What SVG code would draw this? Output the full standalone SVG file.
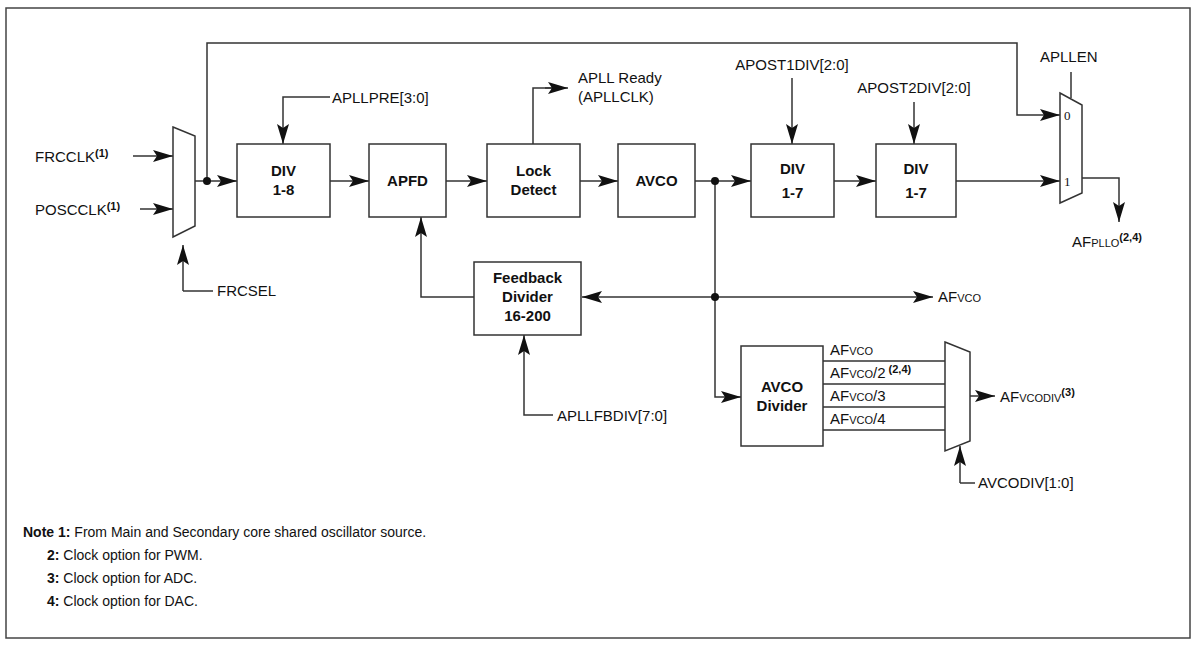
<svg xmlns="http://www.w3.org/2000/svg" width="1196" height="645" viewBox="0 0 1196 645">
<defs>
<marker id="ah" markerWidth="20" markerHeight="12" refX="20" refY="6" orient="auto" markerUnits="userSpaceOnUse"><path d="M0,0 L20,6 L0,12 L4,6 Z" fill="#111"/></marker>
</defs>
<style>
text{font-family:"Liberation Sans",Arial,sans-serif;font-size:15px;fill:#111}
.b{font-weight:bold}
.s{font-size:11px}
.sup{font-size:11px;font-weight:bold}
.box{fill:#fff;stroke:#333;stroke-width:1.5}
.w{fill:none;stroke:#333;stroke-width:1.5}
.a{marker-end:url(#ah)}
</style>
<rect width="1196" height="645" fill="#fff"/>
<rect x="6" y="8" width="1184" height="630" fill="none" stroke="#444" stroke-width="1.5"/>
<g id="connectors">
<path class="w a" d="M133,156 H173"/>
<path class="w a" d="M140,209 H173"/>
<path class="w a" d="M183,291 V245"/>
<path class="w" d="M183,291 H213"/>
<path class="w a" d="M195,181 H237"/>
<path class="w a" d="M207,181 V43 H1017 V115 H1060"/>
<path class="w a" d="M330,97 H283 V144"/>
<path class="w a" d="M330,181 H369"/>
<path class="w a" d="M446,181 H487"/>
<path class="w" d="M533,144 V88 H552"/>
<path class="w a" d="M545,88 H568"/>
<path class="w a" d="M580,181 H618"/>
<path class="w a" d="M695,181 H751"/>
<path class="w a" d="M792,78 V144"/>
<path class="w a" d="M914,102 V144"/>
<path class="w a" d="M834,181 H876"/>
<path class="w a" d="M956,181 H1060"/>
<path class="w" d="M1071,72 V98"/>
<path class="w a" d="M1082,178 H1119 V222"/>
<path class="w a" d="M715,181 V397 H741"/>
<path class="w a" d="M715,297 H582"/>
<path class="w a" d="M715,297 H933"/>
<path class="w a" d="M474,297 H421 V217"/>
<path class="w a" d="M553,415 H524 V335"/>
<path class="w" d="M823,361 H945 M823,384 H945 M823,407 H945 M823,430 H945"/>
<path class="w a" d="M970,396 H995"/>
<path class="w a" d="M960,483 V446"/>
<path class="w" d="M960,483 H975"/>
<circle cx="207" cy="181" r="4" fill="#111"/>
<circle cx="715" cy="181" r="4" fill="#111"/>
<circle cx="715" cy="297" r="4" fill="#111"/>
</g>
<g id="mux1"><path class="box" d="M173,127 L195,136 L195,226 L173,237 Z"/></g>
<g id="frcclk"><text x="35" y="162">FRCCLK<tspan class="sup" dy="-5">(1)</tspan></text></g>
<g id="poscclk"><text x="35" y="215">POSCCLK<tspan class="sup" dy="-5">(1)</tspan></text></g>
<g id="frcsel"><text x="217" y="296">FRCSEL</text></g>
<g id="div18"><rect class="box" x="237" y="144" width="93" height="73"/><text class="b" x="283.500" y="176" text-anchor="middle">DIV</text><text class="b" x="283.500" y="195" text-anchor="middle">1-8</text></g>
<g id="apllpre"><text x="332" y="103">APLLPRE[3:0]</text></g>
<g id="apfd"><rect class="box" x="369" y="144" width="77" height="73"/><text class="b" x="407.500" y="186" text-anchor="middle">APFD</text></g>
<g id="lock"><rect class="box" x="487" y="144" width="93" height="73"/><text class="b" x="533.500" y="176" text-anchor="middle">Lock</text><text class="b" x="533.500" y="195" text-anchor="middle">Detect</text></g>
<g id="ready"><text x="578" y="83">APLL Ready</text><text x="578" y="102">(APLLCLK)</text></g>
<g id="avco"><rect class="box" x="618" y="144" width="77" height="73"/><text class="b" x="656.500" y="186" text-anchor="middle">AVCO</text></g>
<g id="div17a"><rect class="box" x="751" y="144" width="83" height="73"/><text class="b" x="792.500" y="174" text-anchor="middle">DIV</text><text class="b" x="792.500" y="198" text-anchor="middle">1-7</text></g>
<g id="apost1"><text x="792" y="70" text-anchor="middle">APOST1DIV[2:0]</text></g>
<g id="div17b"><rect class="box" x="876" y="144" width="80" height="73"/><text class="b" x="916" y="174" text-anchor="middle">DIV</text><text class="b" x="916" y="198" text-anchor="middle">1-7</text></g>
<g id="apost2"><text x="914" y="93" text-anchor="middle">APOST2DIV[2:0]</text></g>
<g id="mux2"><path class="box" d="M1060,93 L1082,105 L1082,193 L1060,203 Z"/><text x="1064" y="120" style="font-family:'Liberation Serif',serif;font-size:13px">0</text><text x="1064" y="186" style="font-family:'Liberation Serif',serif;font-size:13px">1</text></g>
<g id="apllen"><text x="1040" y="62">APLLEN</text></g>
<g id="afpllo"><text x="1072" y="247">AF<tspan class="s">PLLO</tspan><tspan class="sup" dy="-6">(2,4)</tspan></text></g>
<g id="afvco"><text x="938" y="302">AF<tspan class="s">VCO</tspan></text></g>
<g id="fb"><rect class="box" x="474" y="262" width="107" height="73"/><text class="b" x="527.500" y="283" text-anchor="middle">Feedback</text><text class="b" x="527.500" y="302" text-anchor="middle">Divider</text><text class="b" x="527.500" y="321" text-anchor="middle">16-200</text></g>
<g id="fbdiv"><text x="557" y="421">APLLFBDIV[7:0]</text></g>
<g id="avcodiv"><rect class="box" x="741" y="346" width="82" height="100"/><text class="b" x="782" y="392" text-anchor="middle">AVCO</text><text class="b" x="782" y="411" text-anchor="middle">Divider</text></g>
<g id="divlabels"><text x="830" y="355">AF<tspan class="s">VCO</tspan></text><text x="830" y="378">AF<tspan class="s">VCO</tspan>/2<tspan class="sup" dy="-5"> (2,4)</tspan></text><text x="830" y="401">AF<tspan class="s">VCO</tspan>/3</text><text x="830" y="424">AF<tspan class="s">VCO</tspan>/4</text></g>
<g id="mux3"><path class="box" d="M945,342 L970,352 L970,441 L945,451 Z"/></g>
<g id="afvcodiv"><text x="1000" y="402">AF<tspan class="s">VCODIV</tspan><tspan class="sup" dy="-6">(3)</tspan></text></g>
<g id="avcodivsel"><text x="978" y="488">AVCODIV[1:0]</text></g>
<g id="notes" style="font-size:14px">
<text x="23" y="537" style="font-size:14px"><tspan class="b">Note 1:</tspan> From Main and Secondary core shared oscillator source.</text>
<text x="47" y="560" style="font-size:14px"><tspan class="b">2:</tspan> Clock option for PWM.</text>
<text x="47" y="583" style="font-size:14px"><tspan class="b">3:</tspan> Clock option for ADC.</text>
<text x="47" y="606" style="font-size:14px"><tspan class="b">4:</tspan> Clock option for DAC.</text>
</g>
</svg>
